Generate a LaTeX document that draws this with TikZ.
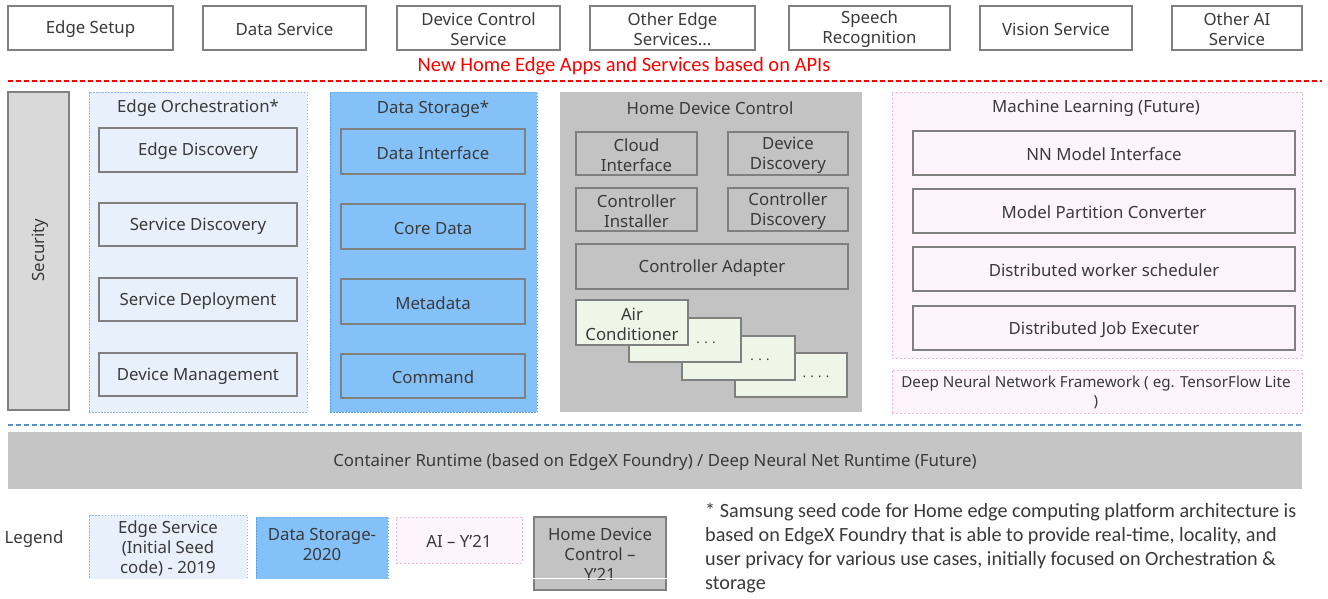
\documentclass[tikz,border=0pt]{standalone}
\usepackage{fontspec}
\setmainfont{Noto Sans}
\newfontfamily\notefont{Carlito}
\definecolor{bordergray}{HTML}{808080}
\definecolor{textc}{HTML}{3A3A3A}
\definecolor{secfill}{HTML}{D9D9D9}
\definecolor{orchfill}{HTML}{E8F0FB}
\definecolor{orchline}{HTML}{8FB8E8}
\definecolor{storfill}{HTML}{85C1F9}
\definecolor{storline}{HTML}{5A9FE0}
\definecolor{hdcfill}{HTML}{C3C3C3}
\definecolor{acfill}{HTML}{EFF6E7}
\definecolor{mlfill}{HTML}{FDF5FB}
\definecolor{mlline}{HTML}{F2B6D8}
\definecolor{contfill}{HTML}{C5C5C6}
\definecolor{blueline}{HTML}{5B8FD0}
\newcommand\bx[7]{\node[#1, minimum width={(#5-#3)*1pt}, minimum height={(#6-#4)*1pt}] (#2) at ({(#3+#5)/2},{(#4+#6)/2}) {};
  \node[lbl] (#2-t) at ([yshift=-1.5pt]#2.center) {#7};}
\begin{document}
\begin{tikzpicture}[x=1pt,y=-1pt,
  base/.style={inner sep=0pt, outer sep=0pt},
  box/.style={base, draw=bordergray, line width=1.3pt},
  topbox/.style={box, fill=white},
  lbl/.style={inner sep=0pt, align=center, text=textc, font=\fontsize{16.8}{20}\selectfont},
  secbox/.style={box, fill=secfill, draw=bordergray},
  orchgrp/.style={base, fill=orchfill, draw=orchline, line width=1pt, dash pattern=on 1.5pt off 1.5pt},
  orchbox/.style={box, fill=orchfill},
  storgrp/.style={base, fill=storfill, draw=storline, line width=1pt, dash pattern=on 1.5pt off 1.5pt},
  storbox/.style={box, fill=storfill},
  hdcgrp/.style={base, fill=hdcfill},
  hdcbox/.style={box, fill=hdcfill},
  acbox/.style={box, fill=acfill},
  mlgrp/.style={base, fill=mlfill, draw=mlline, line width=1pt, dash pattern=on 2pt off 2pt},
  mlbox/.style={box, fill=mlfill},
  dots/.style={inner sep=0pt, text=textc, font=\fontsize{13}{13}\selectfont}
]
\useasboundingbox (0,0) rectangle (1328,598);
\fill[white] (0,0) rectangle (1328,598);
% top row
\bx{topbox}{setup}{8}{6}{173}{50}{Edge Setup}
\bx{topbox}{datasvc}{203}{6}{366}{50}{Data Service}
\bx{topbox}{devctl}{397}{6}{560}{50}{Device Control\\Service}
\bx{topbox}{otheredge}{590}{6}{755}{50}{Other Edge\\Services...}
\bx{topbox}{speech}{789}{6}{950}{50}{Speech\\Recognition}
\bx{topbox}{vision}{980}{6}{1132}{50}{Vision Service}
\bx{topbox}{otherai}{1172}{6}{1302}{50}{Other AI\\Service}
\node[inner sep=0pt, text=red, font=\notefont\fontsize{20.5}{20}\selectfont] (apilabel) at (624,66) {New Home Edge Apps and Services based on APIs};
\coordinate (redL) at (8,81);
\coordinate (redR) at (1322,81);
\draw[red, line width=1.2pt, dash pattern=on 5pt off 3pt] (redL) -- (redR);
% security
\bx{secbox}{security}{8}{92}{69}{410}{}
\node[lbl, rotate=90] (sectext) at (40,250) {Security};
% edge orchestration
\bx{orchgrp}{orch}{89}{92}{307}{412}{}
\node[lbl] (orchtitle) at (198,108) {Edge Orchestration*};
\bx{orchbox}{edgedisc}{99}{128}{297}{172}{Edge Discovery}
\bx{orchbox}{svcdisc}{99}{203}{297}{246}{Service Discovery}
\bx{orchbox}{svcdep}{99}{278}{297}{321}{Service Deployment}
\bx{orchbox}{devmgmt}{99}{353}{297}{396}{Device Management}
% data storage
\bx{storgrp}{stor}{330}{92}{537}{412}{}
\node[lbl] (stortitle) at (433,109) {Data Storage*};
\bx{storbox}{dataif}{341}{129}{525}{174}{Data Interface}
\bx{storbox}{coredata}{341}{204}{525}{249}{Core Data}
\bx{storbox}{metadata}{341}{279}{525}{324}{Metadata}
\bx{storbox}{command}{341}{354}{525}{398}{Command}
% home device control
\bx{hdcgrp}{hdc}{560}{92}{862}{412}{}
\node[lbl] (hdctitle) at (710,108) {Home Device Control};
\bx{hdcbox}{cloudif}{576}{132}{697}{175}{Cloud\\Interface}
\bx{hdcbox}{devdisc}{728}{132}{848}{175}{Device\\Discovery}
\bx{hdcbox}{ctlinst}{576}{188}{697}{231}{Controller\\Installer}
\bx{hdcbox}{ctldisc}{728}{188}{848}{231}{Controller\\Discovery}
\bx{hdcbox}{ctladapt}{576}{244}{848}{289}{Controller Adapter}
\bx{acbox}{ac4}{735}{353}{847}{397}{}
\bx{acbox}{ac3}{682}{336}{795}{380}{}
\bx{acbox}{ac2}{629}{318}{741}{362}{}
\bx{acbox}{ac1}{576}{300}{688}{345}{Air\\Conditioner}
\node[dots] (dots2) at (706,343) {.\,\,.\,\,.};
\node[dots] (dots3) at (760,360) {.\,\,.\,\,.};
\node[dots] (dots4) at (816,377) {.\,\,.\,\,.\,\,.};
% machine learning
\bx{mlgrp}{ml}{892}{92}{1302}{358}{}
\node[lbl] (mltitle) at (1096,108) {Machine Learning (Future)};
\bx{mlbox}{nnmodel}{913}{131}{1295}{175}{NN Model Interface}
\bx{mlbox}{partconv}{913}{189}{1295}{233}{Model Partition Converter}
\bx{mlbox}{workersch}{913}{247}{1295}{291}{Distributed worker scheduler}
\bx{mlbox}{jobexec}{913}{306}{1295}{350}{Distributed Job Executer}
\bx{mlgrp}{dnn}{892}{370}{1302}{413}{}
\node[lbl, font=\fontsize{15.2}{19}\selectfont] (dnntext) at (1096,392) {Deep Neural Network Framework ( eg. TensorFlow Lite\\)};
% runtime
\coordinate (blueL) at (8,425);
\coordinate (blueR) at (1302,425);
\draw[blueline, line width=1.2pt, dash pattern=on 5pt off 3pt] (blueL) -- (blueR);
\bx{base}{runtime}{8}{432}{1302}{489}{}
\fill[contfill] (runtime.north west) rectangle (runtime.south east);
\node[lbl] (runtimetext) at (655,462) {Container Runtime (based on EdgeX Foundry) / Deep Neural Net Runtime (Future)};
% legend
\node[lbl] (legend) at (34,539) {Legend};
\bx{orchgrp}{legedge}{89}{515}{247}{582}{}
\node[lbl] (legedgetext) at (168,548) {Edge Service\\(Initial Seed\\code) - 2019};
\bx{storgrp}{legstor}{256}{517}{388}{582}{}
\node[lbl] (legstortext) at (322,544) {Data Storage-\\2020};
\bx{mlgrp}{legai}{396}{517}{522}{563}{}
\node[lbl] (legaitext) at (459,541) {AI -- Y'21};
\bx{box}{leghdc}{534}{517}{666}{590}{}
\fill[hdcfill] ([shift={(0.65pt,-0.65pt)}]leghdc.north west) rectangle ([shift={(-0.65pt,0.65pt)}]leghdc.south east);
\node[lbl] (leghdctext) at (600,554) {Home Device\\Control --\\Y'21};
\fill[white] (85,579) rectangle (392,598);
\draw[white, line width=1.5pt] (530,578.5) -- (672,578.5);
% footnote
\node[anchor=north west, inner sep=0pt, align=left, text=textc, font=\notefont\fontsize{20.2}{24}\selectfont] (footnote) at (705,503) {* Samsung seed code for Home edge computing platform architecture is\\based on EdgeX Foundry that is able to provide real-time, locality, and\\user privacy for various use cases, initially focused on Orchestration \&\\storage};
\end{tikzpicture}
\end{document}
